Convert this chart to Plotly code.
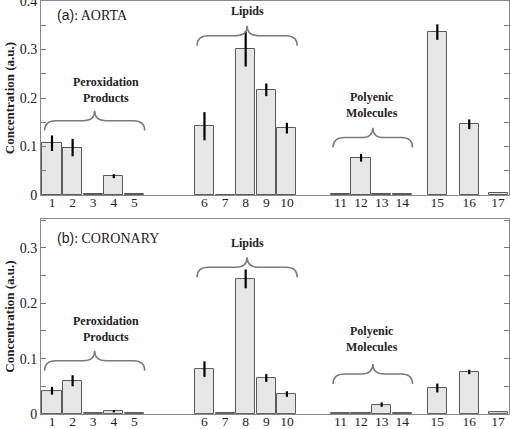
import plotly.graph_objects as go
from plotly.subplots import make_subplots

labels = [str(i) for i in range(1, 18)]
xpos = [1, 2, 3, 4, 5, 8.4, 9.4, 10.4, 11.4, 12.4, 15, 16, 17, 18, 19.7, 21.25, 22.65]

aorta = [0.107, 0.098, 0.002, 0.039, 0.002, 0.142, 0.001, 0.301, 0.217, 0.138,
         0.002, 0.077, 0.002, 0.002, 0.336, 0.146, 0.004]
aorta_err = [0.016, 0.018, 0, 0.004, 0, 0.029, 0, 0.036, 0.013, 0.011,
             0, 0.008, 0, 0, 0.016, 0.010, 0]

coronary = [0.042, 0.060, 0.001, 0.005, 0.001, 0.081, 0.001, 0.244, 0.065, 0.036,
            0.001, 0.001, 0.017, 0.001, 0.047, 0.076, 0.003]
coronary_err = [0.007, 0.010, 0, 0.002, 0, 0.014, 0, 0.017, 0.007, 0.005,
                0, 0, 0.004, 0, 0.008, 0.004, 0]

groups = ["Peroxidation<br>Products", "Lipids", "Polyenic<br>Molecules"]
group_first = [0, 5, 10]
group_last = [4, 9, 13]
aorta_brace_base = [0.133, 0.308, 0.098]
aorta_text_y = [0.217, 0.380, 0.186]
coronary_brace_base = [0.078, 0.247, 0.054]
coronary_text_y = [0.153, 0.309, 0.136]
text_x = [3.62, 10.47, 16.53]

panel_titles = ["(a)", "(b)"]
panel_names = ["AORTA", "CORONARY"]
yranges = [[0, 0.4001], [0, 0.352]]

SERIF = "Liberation Serif"
SANS = "Liberation Sans"

fig = make_subplots(rows=2, cols=1, vertical_spacing=0.058)

for r, (vals, errs) in enumerate([(aorta, aorta_err), (coronary, coronary_err)], start=1):
    fig.add_trace(go.Bar(
        x=xpos, y=vals, width=0.93,
        marker=dict(color="#e6e6e6", line=dict(color="#5a5a5a", width=1)),
        error_y=dict(type="data", array=errs, color="black", thickness=2.2, width=0),
        showlegend=False, hoverinfo="skip"), row=r, col=1)

fig.update_layout(
    width=510, height=429,
    margin=dict(l=41, r=1, t=1, b=15),
    plot_bgcolor="white", paper_bgcolor="white",
    bargap=0,
)
fig.update_layout(yaxis=dict(domain=[0.530, 1.0]), yaxis2=dict(domain=[0.0, 0.472]))

for r in (1, 2):
    fig.update_xaxes(range=[0.466, 23.18], tickmode="array", tickvals=xpos, ticktext=labels,
                     ticks="", showline=True, linecolor="#8a8a8a", linewidth=1, mirror=True,
                     showgrid=False, zeroline=False, automargin=False,
                     ticklabeloverflow="allow", ticklabelstandoff=-5,
                     tickfont=dict(family=SERIF, size=13.5, color="#222"), row=r, col=1)
    fig.update_yaxes(range=yranges[r - 1], dtick=0.1, ticks="inside", ticklen=5, tickcolor="#777",
                     minor=dict(dtick=0.05, ticks="inside", ticklen=5, tickcolor="#777"),
                     showline=True, linecolor="#8a8a8a", linewidth=1, mirror="allticks",
                     showgrid=False, zeroline=False, automargin=False,
                     ticklabeloverflow="allow",
                     tickfont=dict(family=SERIF, size=14, color="#222"),
                     title=dict(text="<b>Concentration (a.u.)</b>",
                                font=dict(family=SERIF, size=13, color="#222"), standoff=2),
                     row=r, col=1)


def brace_path(x0, x1, yb, h, rx):
    xm = (x0 + x1) / 2
    ym = yb + h * 0.5
    yt = yb + h
    return (f"M {x0},{yb} Q {x0},{ym} {x0 + rx},{ym} L {xm - rx},{ym} "
            f"Q {xm},{ym} {xm},{yt} Q {xm},{ym} {xm + rx},{ym} "
            f"L {x1 - rx},{ym} Q {x1},{ym} {x1},{yb}")


px_per_unit = [487.5, 554.0]
for r, (bases, tys) in enumerate([(aorta_brace_base, aorta_text_y),
                                  (coronary_brace_base, coronary_text_y)], start=1):
    xref = "x" if r == 1 else "x2"
    yref = "y" if r == 1 else "y2"
    h = 20.0 / px_per_unit[r - 1]
    for g in range(len(groups)):
        x0 = xpos[group_first[g]] - 0.36
        x1 = xpos[group_last[g]] + 0.5
        fig.add_shape(type="path", path=brace_path(x0, x1, bases[g], h, 0.55),
                      xref=xref, yref=yref, line=dict(color="#7a7a7a", width=1.5))
        fig.add_annotation(x=text_x[g], y=tys[g], xref=xref, yref=yref,
                           text=f"<b>{groups[g]}</b>", showarrow=False,
                           font=dict(family=SERIF, size=12, color="#222"))
    fig.add_annotation(
        x=(55 - 41) / 468, xref="paper",
        y=1 - (14 if r == 1 else 19) / 195, yref=f"{yref} domain",
        xanchor="left", yanchor="middle",
        text=f"<span style='font-family:{SANS}'>{panel_titles[r - 1]}</span>: {panel_names[r - 1]}",
        showarrow=False, font=dict(family=SERIF, size=14, color="#222"))

fig.write_html("out.html", config={"displayModeBar": False},
               post_script="document.body.style.margin='0';document.body.style.overflow='hidden';")
